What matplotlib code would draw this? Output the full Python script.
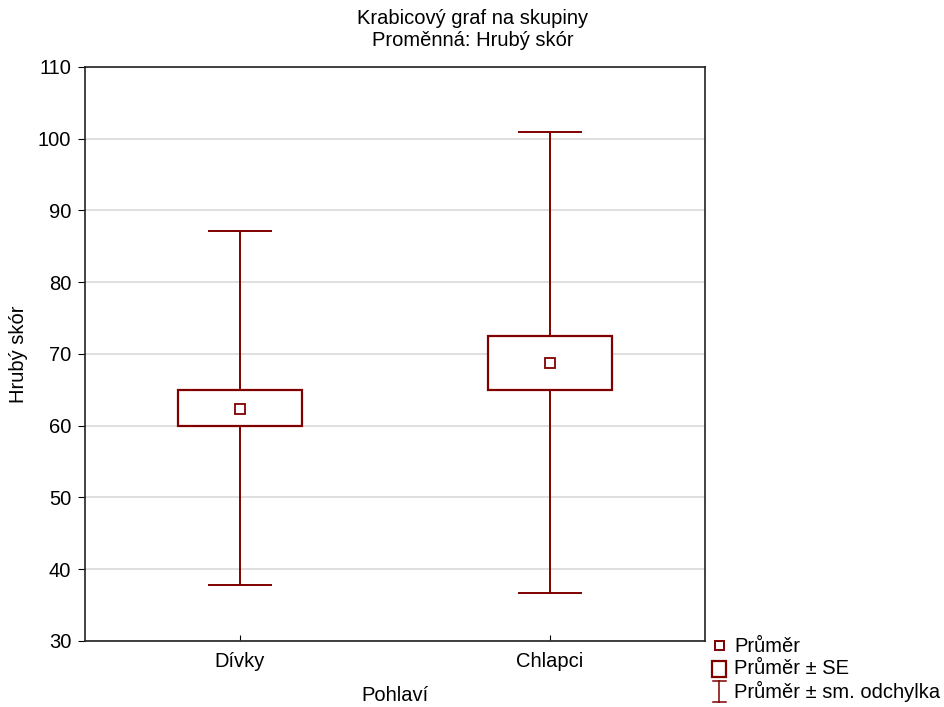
import matplotlib
matplotlib.use("Agg")
import matplotlib.pyplot as plt
from matplotlib.patches import Rectangle
from matplotlib.lines import Line2D

plt.rcParams['font.family'] = ['Liberation Sans', 'DejaVu Sans']

# data
groups = ["Dívky", "Chlapci"]
means = [62.4, 68.8]
se_low = [59.9, 65.0]
se_high = [65.0, 72.5]
sd_low = [37.8, 36.7]
sd_high = [87.1, 100.9]

col = "#800000"
fs = 14.5
fig = plt.figure(figsize=(9.45, 7.07), dpi=100)
ax = fig.add_axes([85/945, 1 - 641/707, 620/945, 574/707])

pos = [1, 2]
for p, m, lo, hi, slo, shi in zip(pos, means, se_low, se_high, sd_low, sd_high):
    # whiskers +- sd
    ax.plot([p, p], [hi, shi], color=col, lw=1.4, zorder=2)
    ax.plot([p, p], [slo, lo], color=col, lw=1.4, zorder=2)
    ax.plot([p - 0.1, p + 0.1], [shi, shi], color=col, lw=1.4, zorder=2)
    ax.plot([p - 0.1, p + 0.1], [slo, slo], color=col, lw=1.4, zorder=2)
    # box +- SE
    ax.add_patch(Rectangle((p - 0.2, lo), 0.4, hi - lo, facecolor="white",
                           edgecolor=col, lw=1.6, zorder=3))
    # mean
    ax.plot(p, m, marker="s", ms=7, mfc="white", mec=col, mew=1.3, zorder=4)

ax.set_xlim(0.5, 2.5)
ax.set_ylim(30, 110)
ax.set_yticks(range(30, 111, 10))
ax.set_xticks(pos)
ax.set_xticklabels(groups)
ax.yaxis.grid(True, color="#d9d9d9", lw=1.2)
ax.set_axisbelow(True)
ax.tick_params(axis="y", direction="out", length=5, labelsize=fs, pad=5)
ax.tick_params(axis="x", direction="in", length=4, labelsize=fs, pad=8)
for s in ax.spines.values():
    s.set_color("#222222")
    s.set_linewidth(1.2)
ax.set_ylabel("Hrubý skór", fontsize=fs)
ax.set_xlabel("Pohlaví", fontsize=fs, labelpad=11)
ax.yaxis.set_label_coords(-57/620, 0.5)

fig.text(0.5, 1 - 18/707, "Krabicový graf na skupiny", ha="center", va="center", fontsize=fs)
fig.text(0.5, 1 - 41/707, "Proměnná: Hrubý skór", ha="center", va="center", fontsize=fs)

# legend drawn in figure pixels
W, H = 945, 707
def fx(x): return x / W
def fy(y): return 1 - y / H

fig.add_artist(Rectangle((fx(715), fy(650)), 9/W, 9/H, transform=fig.transFigure,
                         facecolor="white", edgecolor=col, lw=1.4))
fig.add_artist(Rectangle((fx(712), fy(677)), 14/W, 16/H, transform=fig.transFigure,
                         facecolor="white", edgecolor=col, lw=1.6))
fig.add_artist(Line2D([fx(719), fx(719)], [fy(681), fy(702)], transform=fig.transFigure, color=col, lw=1.1))
fig.add_artist(Line2D([fx(713), fx(726)], [fy(681), fy(681)], transform=fig.transFigure, color=col, lw=1.1))
fig.add_artist(Line2D([fx(713), fx(726)], [fy(702), fy(702)], transform=fig.transFigure, color=col, lw=1.1))
fig.text(fx(734), fy(646), "Průměr", va="center", fontsize=fs)
fig.text(fx(734), fy(668), "Průměr ± SE", va="center", fontsize=fs)
fig.text(fx(734), fy(691), "Průměr ± sm. odchylka", va="center", fontsize=fs)

fig.savefig("out.png", dpi=100)
